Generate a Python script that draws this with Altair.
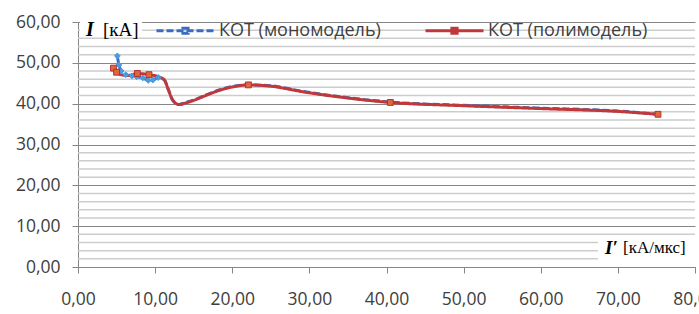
import altair as alt
import pandas as pd

# --- data ---
poly_x = [4.6, 5.0, 5.6, 6.5, 7.7, 9.2, 10.4, 11.2, 11.7, 12.3, 13.1, 14.0, 15.0, 16.3,
          18.4, 20.6, 22.1, 24.9, 29.2, 35.3, 40.5, 50.0, 60.0, 70.0, 75.2]
poly_y = [48.7, 47.7, 47.1, 46.9, 47.4, 47.1, 46.6, 45.8, 43.5, 40.8, 39.8, 40.2, 40.8, 41.8,
          43.3, 44.3, 44.6, 44.3, 42.9, 41.3, 40.3, 39.5, 38.8, 38.1, 37.4]
poly_marked = [True, True, False, False, True, True, False, False, False, False, False, False, False, False,
               False, False, True, False, False, False, True, False, False, False, True]

mono_x = [5.1, 5.3, 5.6, 6.2, 7.0, 7.6, 8.4, 9.1, 9.7, 10.4, 11.2, 11.7, 12.3, 13.1, 14.0, 15.0,
          16.3, 18.4, 20.6, 22.1, 24.9, 29.2, 35.3, 40.5, 50.0, 60.0, 70.0, 75.2]
mono_y = [51.7, 49.5, 48.0, 47.1, 46.8, 46.6, 46.3, 45.7, 45.8, 46.4, 45.8, 43.5, 40.8, 39.8, 40.3, 40.9,
          41.9, 43.4, 44.4, 44.6, 44.4, 43.0, 41.4, 40.4, 39.6, 38.9, 38.2, 37.4]
mono_marked = [True] * 10 + [False] * 18

series_names = ["КОТ (мономодель)", "КОТ (полимодель)"]
x_ticks = [0, 10, 20, 30, 40, 50, 60, 70, 80]
y_ticks = [0, 10, 20, 30, 40, 50, 60]
y_minor = [v for v in range(2, 60, 2) if v % 10 != 0]

df = pd.concat([
    pd.DataFrame({"x": mono_x, "y": mono_y, "marked": mono_marked, "series": series_names[0]}),
    pd.DataFrame({"x": poly_x, "y": poly_y, "marked": poly_marked, "series": series_names[1]}),
], ignore_index=True)

LABEL_FONT = "Open Sans"
GREY = "#868686"
comma_fmt = "replace(format(datum.value, '.2f'), '.', ',')"

x_scale = alt.Scale(domain=[0, 80], nice=False, zero=False)
y_scale = alt.Scale(domain=[0, 60], nice=False)
x_axis = alt.Axis(values=x_ticks, labelExpr=comma_fmt, grid=False, title=None,
                  domainColor=GREY, tickColor=GREY, tickSize=6, domainWidth=1,
                  labelFont=LABEL_FONT, labelFontSize=17.5, labelColor="#404040",
                  labelPadding=17, labelOverlap=False, labelFlush=False)
y_axis = alt.Axis(values=y_ticks, title=None, labelExpr=comma_fmt, grid=True,
                  gridColor=GREY, gridWidth=1,
                  domainColor=GREY, tickColor=GREY, tickSize=6,
                  labelFont=LABEL_FONT, labelFontSize=17.5, labelColor="#404040",
                  labelPadding=12, labelOverlap=False)

legend = alt.Legend(orient="none", legendX=77, legendY=-22, direction="horizontal", title=None,
                    symbolType="M-1,0H1M-0.09,-0.09H0.09V0.09H-0.09Z", symbolSize=3364,
                    symbolStrokeWidth=3, labelFont=LABEL_FONT, labelFontSize=18,
                    labelLimit=400, labelColor="#404040", labelOffset=3, columnPadding=38)

minor = alt.Chart(pd.DataFrame({"v": y_minor})).mark_rule(color="#CDCDCD", strokeWidth=1.5).encode(
    y=alt.Y("v:Q", scale=y_scale, axis=y_axis))

lines = alt.Chart(df).mark_line(interpolate="monotone", strokeWidth=3).encode(
    x=alt.X("x:Q", scale=x_scale, axis=x_axis),
    y=alt.Y("y:Q", scale=y_scale, axis=y_axis),
    color=alt.Color("series:N", scale=alt.Scale(domain=series_names, range=["#3A6CC6", "#C0383A"]),
                    legend=legend),
    strokeDash=alt.StrokeDash("series:N", scale=alt.Scale(domain=series_names, range=[[7, 3], [1, 0]]),
                              legend=legend),
    order=alt.Order("x:Q"),
)

points = alt.Chart(df).transform_filter("datum.marked").transform_calculate(
    grp="datum.series == '" + series_names[0] + "' ? 'a' : 'b'"
).mark_point(filled=True, opacity=1, strokeWidth=1).encode(
    x=alt.X("x:Q", scale=x_scale, axis=x_axis),
    y=alt.Y("y:Q", scale=y_scale, axis=y_axis),
    fill=alt.Fill("grp:N", scale=alt.Scale(domain=["a", "b"], range=["#4A9BE0", "#E0663C"]), legend=None),
    stroke=alt.Stroke("grp:N", scale=alt.Scale(domain=["a", "b"], range=["#4A9BE0", "#B8302F"]), legend=None),
    shape=alt.Shape("grp:N", scale=alt.Scale(domain=["a", "b"], range=["diamond", "square"]), legend=None),
    size=alt.value(34),
)

one = pd.DataFrame({"k": [0]})
box_tl = alt.Chart(one).mark_rect(color="white").encode(
    x=alt.value(2), x2=alt.value(64), y=alt.value(-4), y2=alt.value(15))
box_br = alt.Chart(one).mark_rect(color="white").encode(
    x=alt.value(520), x2=alt.value(625), y=alt.value(216), y2=alt.value(240))

t_I = alt.Chart(pd.DataFrame({"t": ["I"]})).mark_text(
    font="Liberation Serif", fontSize=20, fontWeight="bold", fontStyle="italic",
    align="center", baseline="middle", color="black").encode(
    text="t:N", x=alt.value(12), y=alt.value(8))
t_kA = alt.Chart(pd.DataFrame({"t": ["[кА]"]})).mark_text(
    font="Liberation Serif", fontSize=19, align="left", baseline="middle", color="black").encode(
    text="t:N", x=alt.value(25), y=alt.value(8))
t_Ip = alt.Chart(pd.DataFrame({"t": ["I′"]})).mark_text(
    font="Liberation Serif", fontSize=19, fontWeight="bold", fontStyle="italic",
    align="left", baseline="middle", color="black").encode(
    text="t:N", x=alt.value(527), y=alt.value(226))
t_unit = alt.Chart(pd.DataFrame({"t": ["[кА/мкс]"]})).mark_text(
    font="Liberation Serif", fontSize=17, align="left", baseline="middle", color="black").encode(
    text="t:N", x=alt.value(545), y=alt.value(226))

chart = alt.layer(minor, lines, points, box_tl, box_br, t_I, t_kA, t_Ip, t_unit).properties(
    width=617, height=245,
    padding={"left": 78, "top": 22, "right": 4, "bottom": 47},
    autosize=alt.AutoSizeParams(type="none"),
    background="white",
).configure_view(stroke=None)

chart.save("out.html", embed_options={"renderer": "svg", "actions": False})
